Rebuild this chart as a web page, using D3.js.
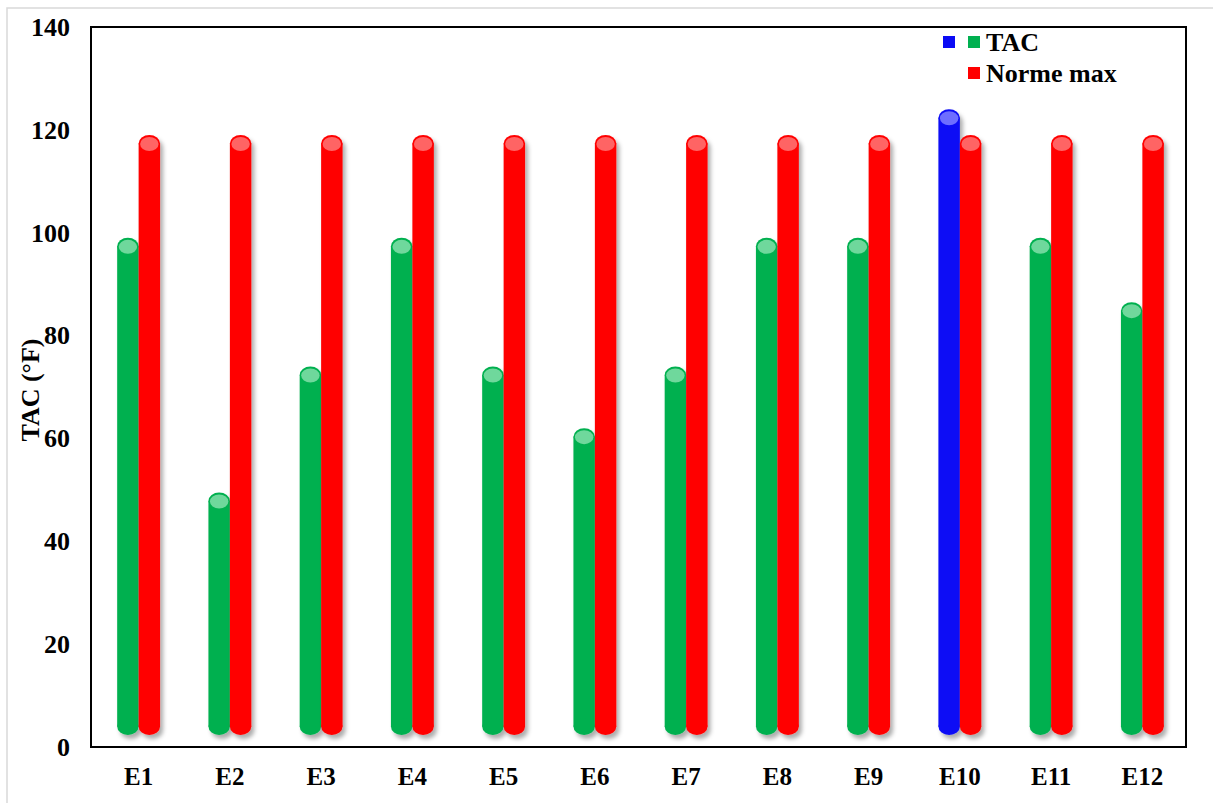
<!DOCTYPE html>
<html>
<head>
<meta charset="utf-8">
<script src="https://cdn.jsdelivr.net/npm/d3@7"></script>
<style>
  html, body { margin: 0; padding: 0; background: #fff; }
  svg { display: block; font-family: "Liberation Serif", "Times New Roman", serif; font-weight: bold; }
</style>
</head>
<body>
<svg id="chart" width="1213" height="803"></svg>
<script>
// Sampling points along the x axis
const categories = ["E1", "E2", "E3", "E4", "E5", "E6", "E7", "E8", "E9", "E10", "E11", "E12"];
// Measured total alkalinity per sample (°F)
const tacValues = [99, 49.5, 74, 99, 74, 62, 74, 99, 99, 124, 99, 86.5];
// Maximum allowed value for each sample (°F)
const normeMax = [119, 119, 119, 119, 119, 119, 119, 119, 119, 119, 119, 119];
// Y axis tick values
const yTicks = [0, 20, 40, 60, 80, 100, 120, 140];
const seriesNames = ["TAC", "Norme max"];

const colors = {
  ok:   { body: "#00b050", cap: "#6fd89c" },
  over: { body: "#0a0af5", cap: "#6e6eff" },
  norm: { body: "#ff0000", cap: "#ff6464" }
};

const svg = d3.select("#chart");
const plot = { left: 91, right: 1186, top: 27, bottom: 747 };

// light outer frame
svg.append("rect")
  .attr("x", 7).attr("y", 8).attr("width", 1215).attr("height", 810)
  .attr("fill", "none").attr("stroke", "#d9d9d9").attr("stroke-width", 1.5);

const defs = svg.append("defs");
const f = defs.append("filter").attr("id", "shadow")
  .attr("x", "-50%").attr("y", "-10%").attr("width", "200%").attr("height", "130%");
f.append("feDropShadow")
  .attr("dx", 3).attr("dy", 4).attr("stdDeviation", 2.2)
  .attr("flood-color", "#000").attr("flood-opacity", 0.32);

const y = d3.scaleLinear().domain([0, 140]).range([plot.bottom, plot.top]);
const x = d3.scaleBand().domain(categories).range([plot.left + 2, plot.right + 2]).paddingInner(0.53).paddingOuter(0.265);
const xs = d3.scaleBand().domain(seriesNames).range([0, x.bandwidth()]);

// y axis labels (no tick marks or domain line)
const yAxis = d3.axisLeft(y).tickValues(yTicks).tickSize(0).tickPadding(21).tickFormat(d3.format("d"));
const gy = svg.append("g").attr("transform", `translate(${plot.left},0)`).call(yAxis);
gy.select(".domain").remove();
gy.selectAll("text").attr("font-size", 26).attr("font-family", "Liberation Serif").attr("font-weight", "bold").attr("fill", "#000");

// x axis labels
const xAxis = d3.axisBottom(x).tickSize(0).tickPadding(20);
const gx = svg.append("g").attr("transform", `translate(0,${plot.bottom})`).call(xAxis);
gx.select(".domain").remove();
gx.selectAll("text").attr("font-size", 25).attr("font-family", "Liberation Serif").attr("font-weight", "bold").attr("fill", "#000");

// cylinders
const ry = 8.5;
const baseY = plot.bottom - 12 - ry;
function cylinder(g, cx, w, value, col) {
  const top = y(value) + ry;
  const grp = g.append("g").attr("filter", "url(#shadow)");
  grp.append("rect")
    .attr("x", cx - w / 2).attr("y", top).attr("width", w).attr("height", baseY - top)
    .attr("fill", col.body);
  grp.append("ellipse")
    .attr("cx", cx).attr("cy", baseY).attr("rx", w / 2).attr("ry", ry)
    .attr("fill", col.body);
  grp.append("ellipse")
    .attr("cx", cx).attr("cy", top).attr("rx", w / 2).attr("ry", ry)
    .attr("fill", col.body);
  g.append("ellipse")
    .attr("cx", cx).attr("cy", top + 0.5).attr("rx", w / 2 - 1.5).attr("ry", ry - 1.5)
    .attr("fill", col.cap);
}

const bars = svg.append("g");
categories.forEach((c, i) => {
  const w = xs.bandwidth();
  const gxg = bars.append("g");
  const tac = tacValues[i];
  cylinder(gxg, x(c) + xs("TAC") + w / 2, w, tac, tac > normeMax[i] ? colors.over : colors.ok);
  cylinder(gxg, x(c) + xs("Norme max") + w / 2, w, normeMax[i], colors.norm);
});

// plot frame
svg.append("rect")
  .attr("x", plot.left).attr("y", plot.top)
  .attr("width", plot.right - plot.left).attr("height", plot.bottom - plot.top)
  .attr("fill", "none").attr("stroke", "#000").attr("stroke-width", 2);

// y axis title
svg.append("text")
  .attr("transform", `translate(39,${(plot.top + plot.bottom) / 2 + 3}) rotate(-90)`)
  .attr("text-anchor", "middle")
  .attr("font-size", 26)
  .text("TAC (°F)");

// legend
const legend = [
  { label: "TAC", swatches: [colors.over.body, colors.ok.body] },
  { label: "Norme max", swatches: [colors.norm.body] }
];
const lg = svg.append("g");
legend.forEach((d, i) => {
  const ly = 42 + i * 31;
  d.swatches.slice().reverse().forEach((s, j) => {
    lg.append("rect")
      .attr("x", 968 - j * 25).attr("y", ly - 6).attr("width", 12).attr("height", 12)
      .attr("fill", s);
  });
  lg.append("text")
    .attr("x", 986).attr("y", ly + 9)
    .attr("font-size", 26)
    .text(d.label);
});
</script>
</body>
</html>
